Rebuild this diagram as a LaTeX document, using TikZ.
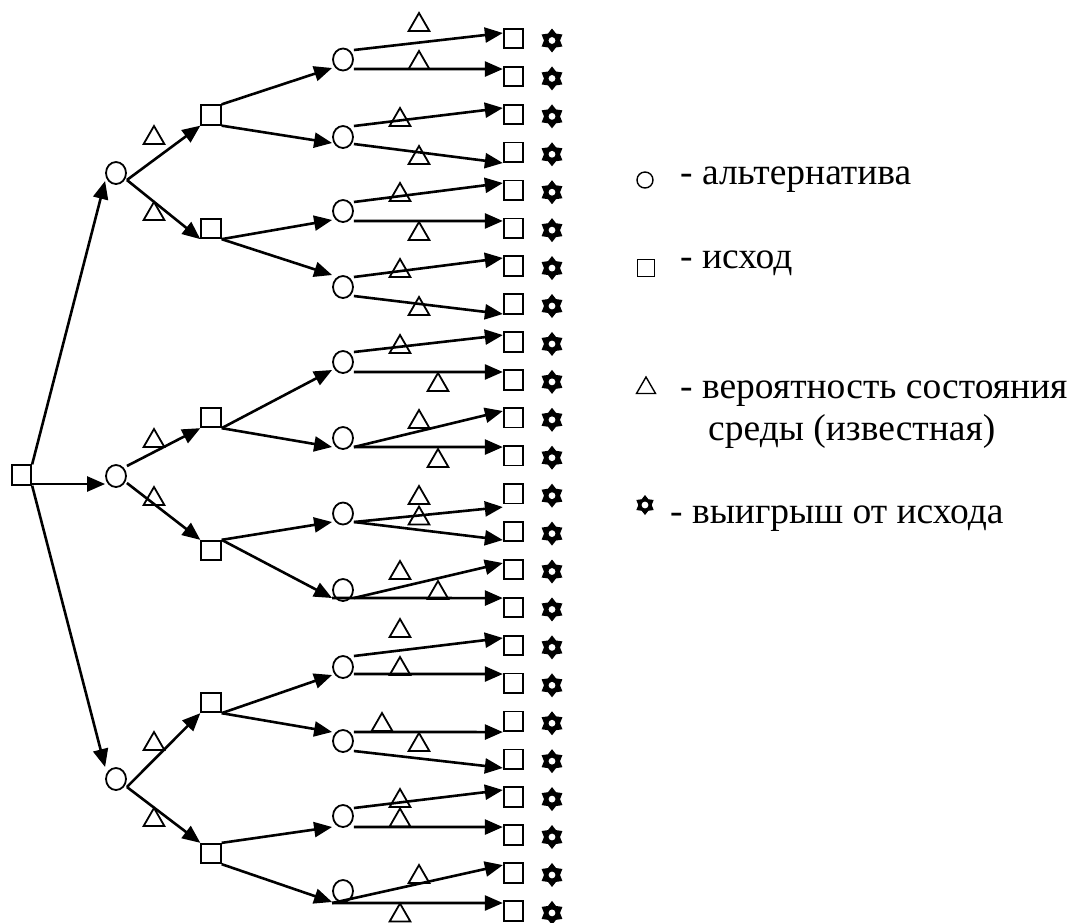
\documentclass[tikz,border=0pt]{standalone}
\usepackage{fontspec}
\setmainfont{Liberation Serif}
\usetikzlibrary{arrows.meta,shapes.geometric}
\begin{document}
\begin{tikzpicture}[x=1pt,y=-1pt,
  edge/.style={line width=2.6pt,-{Triangle[length=18pt,width=15pt]}},
  circ/.style={draw,ellipse,line width=1.8pt,inner sep=0pt,minimum width=20pt,minimum height=22pt},
  sq/.style={draw,rectangle,line width=1.8pt,inner sep=0pt,minimum size=19.5pt},
  tri/.style={draw,regular polygon,regular polygon sides=3,line width=1.8pt,inner sep=0pt,minimum size=24pt,yshift=-3pt},
  win/.style={star,star points=6,star point ratio=1.5,fill=black,inner sep=0pt,minimum size=24pt,
    path picture={\fill[white] (path picture bounding box.center) circle (3.4pt);}},
  lbl/.style={anchor=base west,inner sep=0pt,font=\fontsize{37.5pt}{44pt}\selectfont}]
\useasboundingbox (0,0) rectangle (1067,922);
% root
\node[sq] (r) at (21.5,475) {};
% level 1
\node[circ] (c1) at (116,173) {};
\node[circ] (c2) at (116,476) {};
\node[circ] (c3) at (116,779) {};
% level 2
\node[sq] (s1) at (211,115) {};
\node[sq] (s2) at (211,228.5) {};
\node[sq] (s3) at (211,417.5) {};
\node[sq] (s4) at (211,550.5) {};
\node[sq] (s5) at (211,702.5) {};
\node[sq] (s6) at (211,853.5) {};
% level 3
\node[circ] (c11) at (343,59.5) {};
\node[circ] (c12) at (343,137) {};
\node[circ] (c13) at (343,211) {};
\node[circ] (c14) at (343,287) {};
\node[circ] (c21) at (343,362) {};
\node[circ] (c22) at (343,438) {};
\node[circ] (c23) at (343,513.5) {};
\node[circ] (c24) at (343,590) {};
\node[circ] (c31) at (343,667) {};
\node[circ] (c32) at (343,741) {};
\node[circ] (c33) at (343,816) {};
\node[circ] (c34) at (343,891) {};
% leaves and payoffs
\foreach \i in {0,...,23} {
  \node[sq] (l\i) at (513.5,{38.5+37.93*\i}) {};
  \node[win] (w\i) at (552,{40.5+37.93*\i}) {};
}
% root edges
\draw[edge] (r.north east) -- ([yshift=-8pt]c1.west);
\draw[edge] ([yshift=-9pt]r.east) -- ([yshift=-8pt]c2.west);
\draw[edge] (r.south east) -- ([yshift=12pt]c3.west);
% level 1 edges
\draw[edge] ([yshift=-7pt]c1.east) -- (s1.south west);
\draw[edge] ([yshift=-7pt]c1.east) -- (s2.south west);
\draw[edge] ([yshift=10pt]c2.east) -- (s3.south west);
\draw[edge] ([yshift=-7pt]c2.east) -- (s4.north west);
\draw[edge] ([yshift=-8pt]c3.east) -- (s5.south west);
\draw[edge] ([yshift=-8pt]c3.east) -- (s6.north west);
% level 2 edges
\draw[edge] (s1.north east) -- ([yshift=-8.5pt]c11.west);
\draw[edge] (s1.south east) -- ([yshift=-6pt]c12.west);
\draw[edge] (s2.south east) -- ([yshift=-9pt]c13.west);
\draw[edge] (s2.south east) -- ([yshift=12pt]c14.west);
\draw[edge] (s3.south east) -- ([yshift=-8pt]c21.west);
\draw[edge] (s3.south east) -- ([yshift=-9pt]c22.west);
\draw[edge] (s4.north east) -- ([yshift=-8.5pt]c23.west);
\draw[edge] (s4.north east) -- ([yshift=-8pt]c24.west);
\draw[edge] (s5.south east) -- ([yshift=-8pt]c31.west);
\draw[edge] (s5.south east) -- ([yshift=9pt]c32.west);
\draw[edge] (s6.north east) -- ([yshift=-11pt]c33.west);
\draw[edge] (s6.south east) -- ([yshift=-11pt]c34.west);
% level 3 edges
\draw[edge] ([yshift=9.5pt]c11.east) -- ([yshift=5.5pt]l0.west);
\draw[edge] ([yshift=-9.5pt]c11.east) -- ([yshift=7.4pt]l1.west);
\draw[edge] ([yshift=11pt]c12.east) -- ([yshift=6.4pt]l2.west);
\draw[edge] ([yshift=-7pt]c12.east) -- ([yshift=-10.7pt]l3.west);
\draw[edge] ([yshift=9pt]c13.east) -- ([yshift=7.2pt]l4.west);
\draw[edge] ([yshift=-10pt]c13.east) -- ([yshift=7.2pt]l5.west);
\draw[edge] ([yshift=10pt]c14.east) -- ([yshift=8.1pt]l6.west);
\draw[edge] ([yshift=-9pt]c14.east) -- ([yshift=-10pt]l7.west);
\draw[edge] ([yshift=10pt]c21.east) -- ([yshift=6.9pt]l8.west);
\draw[edge] ([yshift=-10pt]c21.east) -- ([yshift=7.9pt]l9.west);
\draw[edge] ([yshift=-9pt]c22.east) -- ([yshift=6.8pt]l10.west);
\draw[edge] ([yshift=-9pt]c22.east) -- ([yshift=8.7pt]l11.west);
\draw[edge] ([yshift=-8.5pt]c23.east) -- ([yshift=-13.4pt]l12.west);
\draw[edge] ([yshift=-8.5pt]c23.east) -- ([yshift=-8.4pt]l13.west);
\draw[edge] ([yshift=-8pt]c24.east) -- ([yshift=6.5pt]l14.west);
\draw[edge] ([yshift=-8pt]c24.west) -- ([yshift=9.4pt]l15.west);
\draw[edge] ([yshift=11pt]c31.east) -- ([yshift=7.4pt]l16.west);
\draw[edge] ([yshift=-7pt]c31.east) -- ([yshift=9.3pt]l17.west);
\draw[edge] ([yshift=9pt]c32.east) -- ([yshift=-10.8pt]l18.west);
\draw[edge] ([yshift=-10pt]c32.east) -- ([yshift=-8.8pt]l19.west);
\draw[edge] ([yshift=8pt]c33.east) -- ([yshift=7.1pt]l20.west);
\draw[edge] ([yshift=-11pt]c33.east) -- ([yshift=8pt]l21.west);
\draw[edge] ([yshift=-12pt]c34.west) -- ([yshift=7.9pt]l22.west);
\draw[edge] ([yshift=-12pt]c34.west) -- ([yshift=7.9pt]l23.west);
% probability triangles
\node[tri] (p1) at (154,135) {};
\node[tri] (p2) at (154,211) {};
\node[tri] (p3) at (154,438) {};
\node[tri] (p4) at (154,496) {};
\node[tri] (p5) at (154,741) {};
\node[tri] (p6) at (154,817) {};
\node[tri] (q1) at (419,22) {};
\node[tri] (q2) at (419,60) {};
\node[tri] (q3) at (400,117) {};
\node[tri] (q4) at (419,155) {};
\node[tri] (q5) at (400,192) {};
\node[tri] (q6) at (419,231) {};
\node[tri] (q7) at (400,268) {};
\node[tri] (q8) at (419,306) {};
\node[tri] (q9) at (400,344) {};
\node[tri] (q10) at (438,382) {};
\node[tri] (q11) at (419,419) {};
\node[tri] (q12) at (438,458) {};
\node[tri] (q13) at (419,495) {};
\node[tri] (q14) at (419,515.5) {};
\node[tri] (q15) at (400,570) {};
\node[tri] (q16) at (438,590) {};
\node[tri] (q17) at (400,628) {};
\node[tri] (q18) at (400,666) {};
\node[tri] (q19) at (382,722) {};
\node[tri] (q20) at (419,742) {};
\node[tri] (q21) at (400,798) {};
\node[tri] (q22) at (400,817.5) {};
\node[tri] (q23) at (419,874) {};
\node[tri] (q24) at (400,912.5) {};
% legend
\node[circ,minimum width=16pt,minimum height=16pt,line width=1.4pt] (kc) at (645,180) {};
\node[lbl] (kt1) at (680,184) {- альтернатива};
\node[sq,minimum size=17pt,line width=1.4pt] (ks) at (646,268) {};
\node[lbl] (kt2) at (680,268) {- исход};
\node[tri,minimum size=22pt,line width=1.4pt] (kp) at (646,385) {};
\node[lbl] (kt3) at (680,398) {- вероятность состояния};
\node[lbl] (kt4) at (708,440) {среды (известная)};
\node[win,minimum size=20pt] (kw) at (645,505) {};
\node[lbl] (kt5) at (670,523) {- выигрыш от исхода};
\end{tikzpicture}
\end{document}
